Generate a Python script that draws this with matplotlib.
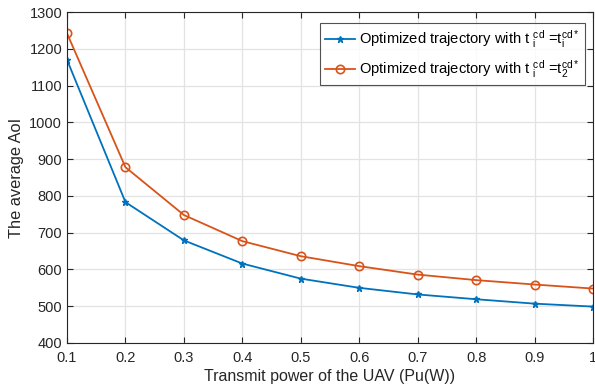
import matplotlib
matplotlib.use('Agg')
import matplotlib.pyplot as plt

# transmit power of the UAV (W)
power = [0.1, 0.2, 0.3, 0.4, 0.5, 0.6, 0.7, 0.8, 0.9, 1.0]
# average AoI, t_i^cd = t_i^cd*
aoi_opt = [1170, 783, 679, 616, 575, 550, 532, 519, 507, 499]
# average AoI, t_i^cd = t_2^cd*
aoi_t2 = [1242, 878, 748, 677, 636, 609, 586, 571, 559, 548]

yticks = list(range(400, 1301, 100))
xticks = [0.1, 0.2, 0.3, 0.4, 0.5, 0.6, 0.7, 0.8, 0.9, 1.0]
xticklabels = ['0.1', '0.2', '0.3', '0.4', '0.5', '0.6', '0.7', '0.8', '0.9', '1']

plt.rcParams['font.family'] = ['Liberation Sans', 'DejaVu Sans']
plt.rcParams['mathtext.fontset'] = 'custom'
plt.rcParams['mathtext.rm'] = 'Liberation Sans'
plt.rcParams['mathtext.it'] = 'Liberation Sans'

fig = plt.figure(figsize=(5.95, 3.92), dpi=100)
ax = fig.add_axes([67 / 595, 1 - 343 / 392, (593 - 67) / 595, (343 - 12) / 392])

ax.plot(power, aoi_opt, color='#0072BD', marker='*', markersize=5, lw=1.3,
        label=r'Optimized trajectory with t $_{\rm i}^{\rm cd}$ =t$_{\rm i}^{\rm cd*}$')
ax.plot(power, aoi_t2, color='#D95319', marker='o', markersize=6, lw=1.3,
        markerfacecolor='none', markeredgewidth=1.2,
        label=r'Optimized trajectory with t $_{\rm i}^{\rm cd}$ =t$_{\rm 2}^{\rm cd*}$')

ax.set_xlim(0.1, 1.0)
ax.set_ylim(400, 1300)
ax.set_xticks(xticks)
ax.set_xticklabels(xticklabels)
ax.set_yticks(yticks)
ax.tick_params(direction='in', top=True, right=True, labelsize=10.5,
               colors='#262626', length=4)
ax.tick_params(axis='x', pad=6)
ax.grid(True, color='#e3e3e3', lw=0.9)
ax.set_axisbelow(True)
for s in ax.spines.values():
    s.set_color('#262626')
    s.set_linewidth(0.8)

ax.set_xlabel('Transmit power of the UAV (Pu(W))', fontsize=11.5, color='#262626', labelpad=3)
ax.set_ylabel('The average AoI', fontsize=11.8, color='#262626', labelpad=4)

leg = ax.legend(loc='upper right', fontsize=10.6, frameon=True, fancybox=False,
                edgecolor='#262626', handlelength=2.0, handletextpad=0.3,
                borderpad=0.35, labelspacing=0.55, borderaxespad=0,
                bbox_to_anchor=(0.985, 0.967))
leg.get_frame().set_linewidth(0.8)

fig.savefig('out.png', dpi=100)
